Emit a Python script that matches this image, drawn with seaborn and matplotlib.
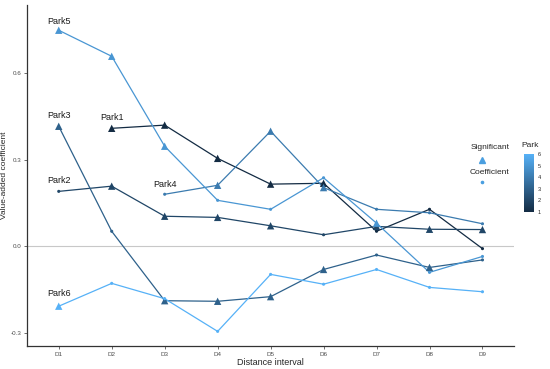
import matplotlib
matplotlib.use("Agg")
import matplotlib.pyplot as plt
import matplotlib.colors as mcolors
from matplotlib.cm import ScalarMappable
from matplotlib.lines import Line2D
import numpy as np
import pandas as pd
import seaborn as sns

# ── Data ──────────────────────────────────────────────────────────────────────
intervals = ["D1", "D2", "D3", "D4", "D5", "D6", "D7", "D8", "D9"]

park1 = [None, 0.408, 0.419, 0.304, 0.215, 0.218, 0.052, 0.128, -0.008]
park2 = [0.190, 0.208, 0.104, 0.100, 0.071, 0.040, 0.069, 0.059, 0.058]
park3 = [0.415, 0.052, -0.188, -0.190, -0.174, -0.080, -0.030, -0.073, -0.047]
park4 = [None, None, 0.180, 0.211, 0.398, 0.203, 0.128, 0.116, 0.078]
park5 = [0.747, 0.657, 0.346, 0.159, 0.128, 0.237, 0.080, -0.090, -0.035]
park6 = [-0.207, -0.128, -0.181, -0.294, -0.097, -0.131, -0.080, -0.142, -0.157]

# 1 = significant (triangle), 0 = plain coefficient (dot)
sig1 = [0, 1, 1, 1, 1, 1, 0, 0, 0]
sig2 = [0, 1, 1, 1, 1, 0, 1, 1, 1]
sig3 = [1, 0, 1, 1, 1, 1, 0, 1, 0]
sig4 = [0, 0, 0, 1, 1, 1, 0, 0, 0]
sig5 = [1, 1, 1, 0, 0, 0, 1, 0, 0]
sig6 = [1, 0, 0, 0, 0, 0, 0, 0, 0]

label_names = ["Park1", "Park2", "Park3", "Park4", "Park5", "Park6"]
label_x = ["D2", "D1", "D1", "D3", "D1", "D1"]
label_y = [0.445, 0.228, 0.452, 0.215, 0.778, -0.162]

y_ticks = [-0.3, 0.0, 0.3, 0.6]

# ── Build long table ──────────────────────────────────────────────────────────
rows = []
for p, (vals, sig) in enumerate(zip([park1, park2, park3, park4, park5, park6],
                                    [sig1, sig2, sig3, sig4, sig5, sig6]), start=1):
    for d, v, s in zip(intervals, vals, sig):
        if v is None:
            continue
        rows.append({"interval": d, "value": v, "park": p,
                     "kind": "Significant" if s else "Coefficient"})
df = pd.DataFrame(rows)
df["pos"] = df["interval"].map({d: i for i, d in enumerate(intervals)})

cmap = mcolors.LinearSegmentedColormap.from_list("gg", ["#132B43", "#56B1F7"])
norm = mcolors.Normalize(vmin=1, vmax=6)

# ── Plot ──────────────────────────────────────────────────────────────────────
sns.set_style("white")
plt.rcParams["font.family"] = ["Liberation Sans", "DejaVu Sans"]

fig = plt.figure(figsize=(5.5, 3.69), dpi=100)
ax = fig.add_axes([0.049, 0.062, 0.886, 0.925])

ax.axhline(0, color="#c8c8c8", lw=0.8, zorder=0)

sns.lineplot(data=df, x="pos", y="value", hue="park", palette=cmap, hue_norm=norm,
             units="park", estimator=None, lw=0.9, legend=False, ax=ax)
sns.scatterplot(data=df, x="pos", y="value", hue="park", palette=cmap, hue_norm=norm,
                style="kind", markers={"Significant": "^", "Coefficient": "o"},
                size="kind", sizes={"Significant": 28, "Coefficient": 5},
                linewidth=0, legend=False, ax=ax, zorder=3)

for name, lx, ly in zip(label_names, label_x, label_y):
    ax.text(intervals.index(lx), ly, name, ha="center", va="center", fontsize=6.5,
            color="#1a1a1a")

ax.set_xlim(-0.6, 8.6)
ax.set_ylim(-0.345, 0.835)
ax.set_xticks(range(len(intervals)))
ax.set_xticklabels(intervals)
ax.set_yticks(y_ticks)
ax.set_yticklabels([f"{t:.1f}" for t in y_ticks])
ax.tick_params(axis="both", labelsize=4.5, labelcolor="#4d4d4d", length=2,
               width=0.5, color="#333333", pad=2, bottom=True, left=True)
ax.set_xlabel("Distance interval", fontsize=6.5, labelpad=1)
ax.set_ylabel("Value-added coefficient", fontsize=6)
ax.yaxis.set_label_coords(-0.038, 0.5)
for side in ["top", "right"]:
    ax.spines[side].set_visible(False)
for side in ["left", "bottom"]:
    ax.spines[side].set_color("#333333")
    ax.spines[side].set_linewidth(0.9)

# ── Legends ───────────────────────────────────────────────────────────────────
fig.text(490 / 550, 1 - 147 / 369, "Significant", ha="center", va="center", fontsize=6)
fig.text(490 / 550, 1 - 172 / 369, "Coefficient", ha="center", va="center", fontsize=6)
fig.add_artist(Line2D([482 / 550], [1 - 160 / 369], marker="^", color="#4a9fe0",
                      markersize=4, lw=0, transform=fig.transFigure))
fig.add_artist(Line2D([482 / 550], [1 - 182 / 369], marker="o", color="#4a9fe0",
                      markersize=1.6, lw=0, transform=fig.transFigure))

cax = fig.add_axes([524 / 550, 1 - 212 / 369, 10 / 550, 58 / 369])
cb = fig.colorbar(ScalarMappable(norm=norm, cmap=cmap), cax=cax, ticks=[1, 2, 3, 4, 5, 6])
cb.outline.set_visible(False)
cb.ax.tick_params(labelsize=4, length=1.5, width=0.4, color="white", pad=1)
fig.text(530 / 550, 1 - 146 / 369, "Park", ha="center", va="center", fontsize=6)

fig.savefig("out.png", dpi=100)
